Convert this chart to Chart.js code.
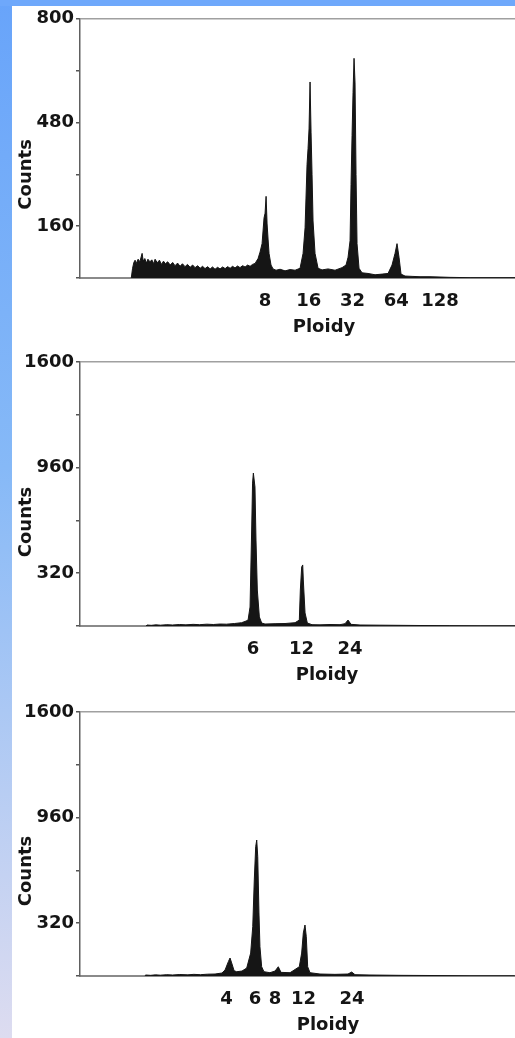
<!DOCTYPE html>
<html>
<head>
<meta charset="utf-8">
<title>Ploidy histograms</title>
<script src="https://cdn.jsdelivr.net/npm/chart.js@4.4.1/dist/chart.umd.min.js"></script>
<style>
  html, body { margin: 0; padding: 0; width: 515px; height: 1038px; overflow: hidden; background: #fff; }
  #edge-left { position: absolute; left: 0; top: 0; width: 12px; height: 1038px;
    background: linear-gradient(#68a4fa, #86b9f7 45%, #dddcf0); }
  #edge-top { position: absolute; left: 0; top: 0; width: 515px; height: 6px; background: #6ea8fb; }
  canvas { position: absolute; left: 12px; }
</style>
</head>
<body>
<div id="edge-left"></div>
<div id="edge-top"></div>
<canvas id="hist-1" width="503" height="340" style="top:6px"></canvas>
<canvas id="hist-2" width="503" height="350" style="top:340px"></canvas>
<canvas id="hist-3" width="503" height="348" style="top:690px"></canvas>

<script>
/* ── Data (ploidy on a log axis, counts per bin) ─────────── */

const ploidy1 = [0.96, 0.98, 1.00, 1.02, 1.04, 1.07, 1.10, 1.14, 1.16, 1.19,
  1.22, 1.25, 1.29, 1.33, 1.37, 1.40, 1.45, 1.50, 1.55, 1.60,
  1.65, 1.71, 1.78, 1.85, 1.92, 2.00, 2.08, 2.16, 2.25, 2.34,
  2.44, 2.54, 2.64, 2.75, 2.86, 2.97, 3.09, 3.22, 3.35, 3.48,
  3.62, 3.77, 3.92, 4.08, 4.25, 4.42, 4.60, 4.78, 4.97, 5.17,
  5.38, 5.60, 5.83, 6.07, 6.31, 6.56, 6.83, 7.16, 7.39, 7.63,
  7.87, 8.00, 8.13, 8.26, 8.39, 8.52, 8.79, 9.08, 9.52, 10.15,
  10.98, 11.89, 12.87, 13.93, 14.61, 15.08, 15.56, 15.81, 16.06, 16.32,
  16.58, 16.84, 17.11, 17.66, 18.53, 19.74, 21.71, 24.25, 27.10, 28.87,
  29.80, 30.76, 31.25, 31.75, 32.25, 32.77, 33.29, 33.82, 34.36, 35.47,
  37.20, 40.91, 45.71, 51.07, 56.16, 59.84, 62.75, 64.76, 66.85, 69.00,
  73.52, 82.14, 93.24, 109.2, 128, 150, 206, 331, 420];
const counts1 = [0, 30, 48, 55, 45, 58, 50, 76, 52, 60,
  46, 58, 50, 56, 44, 58, 47, 55, 42, 52,
  44, 50, 40, 48, 38, 46, 36, 44, 35, 42,
  33, 40, 32, 38, 30, 36, 29, 35, 28, 34,
  27, 33, 28, 34, 29, 35, 30, 36, 31, 37,
  32, 38, 34, 40, 36, 42, 45, 60, 80, 106,
  185, 200, 252, 167, 120, 76, 40, 28, 24, 27,
  22, 26, 24, 30, 76, 155, 350, 400, 460, 605,
  450, 320, 176, 76, 30, 25, 28, 24, 32, 40,
  64, 115, 289, 440, 572, 678, 602, 320, 106, 30,
  16, 14, 10, 12, 14, 40, 76, 106, 64, 12,
  6, 5, 4, 4, 3, 2, 1, 1, 1];

const ploidy2 = [1.30, 1.32, 1.40, 1.50, 1.60, 1.75, 1.90, 2.10, 2.30, 2.55,
  2.80, 3.10, 3.40, 3.75, 4.10, 4.60, 5.10, 5.43, 5.59, 5.75,
  5.89, 5.96, 6.03, 6.17, 6.26, 6.38, 6.57, 6.79, 7.12, 8.22,
  9.48, 10.94, 11.63, 11.80, 12.03, 12.21, 12.31, 12.62, 13.04, 13.94,
  15.63, 18.03, 20.80, 22.35, 23.33, 24.35, 27.69, 36.85, 49.04, 65.26,
  100, 154, 254];
const counts2 = [0, 6, 4, 7, 5, 8, 6, 9, 7, 10,
  8, 11, 9, 12, 11, 15, 20, 30, 36, 115,
  600, 866, 927, 842, 521, 218, 55, 18, 12, 14,
  15, 20, 36, 218, 358, 370, 279, 79, 18, 8,
  7, 9, 8, 14, 36, 10, 6, 5, 4, 3,
  2, 1, 1];

const ploidy3 = [1.24, 1.26, 1.35, 1.45, 1.55, 1.70, 1.85, 2.05, 2.30, 2.50,
  2.75, 3.05, 3.39, 3.74, 3.91, 4.10, 4.20, 4.30, 4.45, 4.62,
  4.98, 5.33, 5.64, 5.81, 5.94, 6.06, 6.15, 6.24, 6.35, 6.44,
  6.60, 6.82, 7.43, 7.99, 8.37, 8.70, 9.90, 11.30, 11.69, 11.97,
  12.26, 12.49, 12.74, 13.17, 15.19, 18.82, 22.67, 23.90, 25.05, 31.04,
  47.67, 73.17, 129.6, 246];
const counts3 = [0, 6, 4, 7, 5, 8, 6, 9, 7, 10,
  8, 11, 12, 18, 36, 87, 109, 79, 32, 26,
  30, 48, 139, 299, 582, 784, 824, 723, 382, 178,
  56, 26, 20, 30, 56, 22, 20, 56, 139, 261,
  309, 238, 56, 20, 12, 10, 12, 24, 8, 6,
  4, 3, 1, 1];

const xTicks1 = [8, 16, 32, 64, 128];
const xTicks2 = [6, 12, 24];
const xTicks3 = [4, 6, 8, 12, 24];

const yLabels1 = [160, 480, 800];
const yLabels2 = [320, 960, 1600];
const yLabels3 = [320, 960, 1600];

/* ── Styling ─────────────────────────────────────────────── */

const INK = '#151515';
const FONT = { family: "'DejaVu Sans', sans-serif", size: 18, weight: 'bold' };

Chart.defaults.font = FONT;
Chart.defaults.color = INK;

// axis titles sit off-centre in the original, so they are drawn here
const axisTitles = {
  id: 'axisTitles',
  afterDraw(chart, args, opts) {
    const { ctx, chartArea } = chart;
    ctx.save();
    ctx.fillStyle = INK;
    ctx.font = `${FONT.weight} ${FONT.size}px ${FONT.family}`;
    ctx.textAlign = 'center';
    ctx.textBaseline = 'middle';
    ctx.fillText('Ploidy', chartArea.left + opts.xShift, chartArea.bottom + 49);
    ctx.translate(14.5, (chartArea.top + chartArea.bottom) / 2 + opts.yShift);
    ctx.rotate(-Math.PI / 2);
    ctx.fillText('Counts', 0, 0);
    ctx.restore();
  },
};

/* ── Charts ──────────────────────────────────────────────── */

function buildPanel(id, p) {
  const points = p.ploidy.map((v, i) => ({ x: v, y: p.counts[i] }));

  return new Chart(document.getElementById(id), {
    type: 'line',
    data: {
      datasets: [{
        data: points,
        borderColor: INK,
        backgroundColor: INK,
        borderWidth: 1,
        pointRadius: 0,
        fill: 'origin',
        tension: 0,
      }],
    },
    options: {
      responsive: false,
      animation: false,
      layout: { padding: { top: p.padTop, right: 0, bottom: 0, left: 0 } },
      plugins: {
        legend: { display: false },
        tooltip: { enabled: false },
        axisTitles: { xShift: p.xShift, yShift: p.yShift },
      },
      scales: {
        x: {
          type: 'logarithmic',
          min: p.xMin,
          max: p.xMax,
          afterBuildTicks: (s) => { s.ticks = p.xTicks.map(v => ({ value: v })); },
          afterFit: (s) => { s.height = p.axisHeight; },
          ticks: { autoSkip: false, maxRotation: 0, padding: 13, callback: (v) => String(v) },
          grid: { display: false, drawTicks: false },
          border: { color: '#8a8a8a', width: 2 },
        },
        y: {
          min: 0,
          max: p.yMax,
          afterFit: (s) => { s.width = 68; },
          ticks: {
            stepSize: p.yStep,
            autoSkip: false,
            padding: 2,
            callback: (v) => (p.yLabels.includes(v) ? String(v) : ''),
          },
          grid: {
            color: (c) => (c.tick && c.tick.value === p.yMax ? '#a0a0a0' : 'rgba(0,0,0,0)'),
            tickColor: '#555',
            tickLength: 4,
            lineWidth: 1.5,
          },
          border: { color: '#606060', width: 1.5 },
        },
      },
    },
    plugins: [axisTitles],
  });
}

buildPanel('hist-1', {
  ploidy: ploidy1, counts: counts1, xTicks: xTicks1, yLabels: yLabels1,
  xMin: 0.426, xMax: 420, yMax: 800, yStep: 160,
  padTop: 9, axisHeight: 68, xShift: 244, yShift: 26,
});

buildPanel('hist-2', {
  ploidy: ploidy2, counts: counts2, xTicks: xTicks2, yLabels: yLabels2,
  xMin: 0.506, xMax: 253.7, yMax: 1600, yStep: 320,
  padTop: 22, axisHeight: 64, xShift: 247, yShift: 28,
});

buildPanel('hist-3', {
  ploidy: ploidy3, counts: counts3, xTicks: xTicks3, yLabels: yLabels3,
  xMin: 0.492, xMax: 246.6, yMax: 1600, yStep: 320,
  padTop: 22, axisHeight: 62, xShift: 248, yShift: 27,
});
</script>
</body>
</html>
